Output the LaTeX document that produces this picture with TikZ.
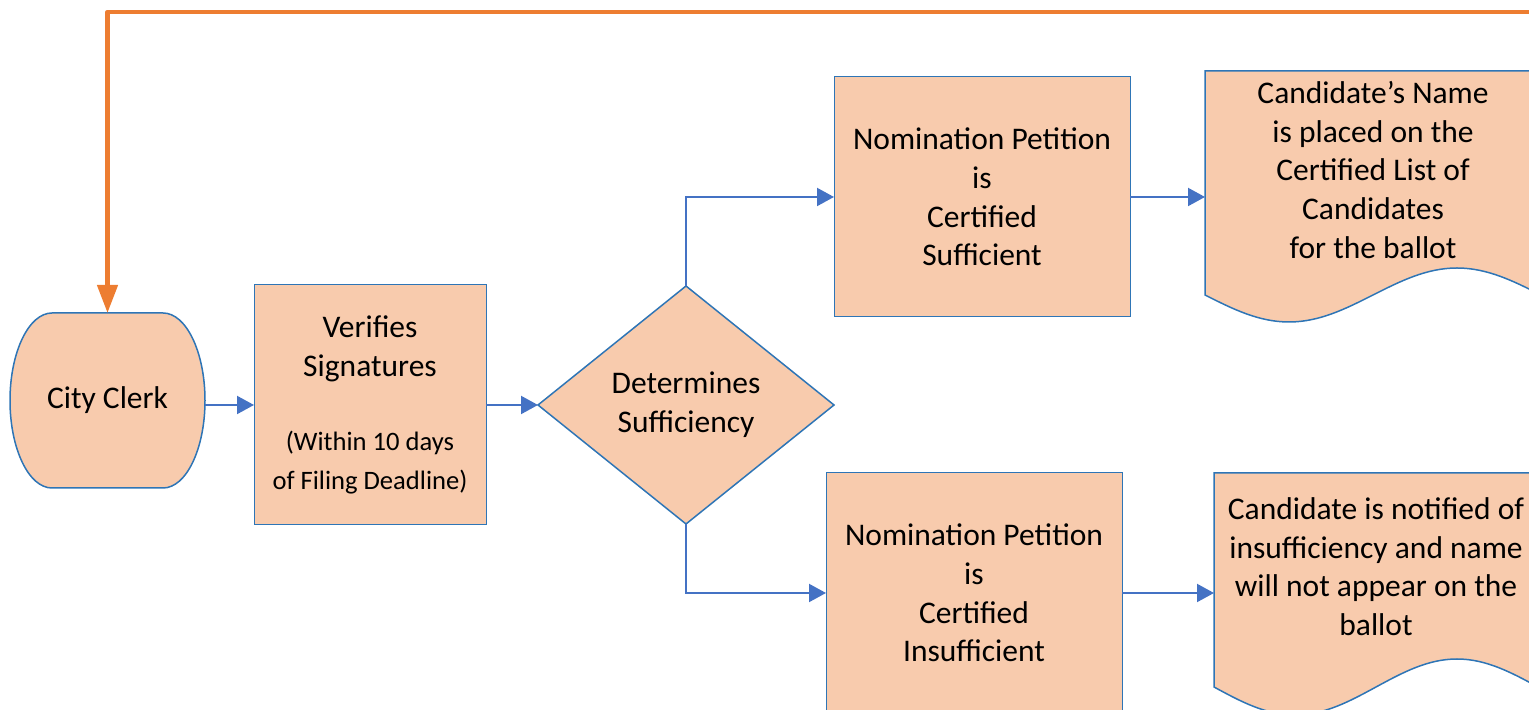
\documentclass[tikz,border=0pt]{standalone}
\usepackage{fontspec}
\setmainfont{Carlito}
\usetikzlibrary{shapes.geometric,arrows.meta,calc,backgrounds}
\definecolor{remplissage}{HTML}{F8CBAD}
\definecolor{bord}{HTML}{2E75B6}
\definecolor{lien}{HTML}{4472C4}
\definecolor{retourorange}{HTML}{ED7D31}
\newcommand\petit{\fontsize{13.3}{18.5}\selectfont}
\begin{document}
\begin{tikzpicture}[x=0.5pt, y=0.5pt]
	\tikzset{texte/.style={font=\fontsize{15.75}{19.3}\selectfont, align=center, inner sep=0pt, outer sep=0pt},
		boite/.style={texte, rectangle, draw=bord, line width=0.5pt, fill=remplissage, minimum width=148pt, minimum height=120pt},
		losange/.style={texte, diamond, aspect=1.24, draw=bord, line width=0.75pt, fill=remplissage, minimum width=148pt, minimum height=119pt},
		contour/.style={draw=bord, line width=0.75pt, fill=remplissage},
		fleche/.style={draw=lien, line width=1pt, -{Triangle[length=8.5pt, width=9pt]}},
		retour/.style={draw=retourorange, line width=2.25pt, line join=round, -{Triangle[length=14pt, width=10pt]}}};

	\useasboundingbox (0,0) rectangle (1529,710);

	\node[texte, minimum width=97.5pt, minimum height=87.5pt] (clerk) at (107.5, 309.5) {City Clerk};
	\node[boite, minimum width=116pt] (verif) at (370, 305) {Verifies\\Signatures\\[18pt]{\petit (Within 10 days}\\{\petit of Filing Deadline)}};
	\node[losange] (decision) at (686, 305) {Determines\\Sufficiency};
	\node[boite] (suff)   at (982, 513) {Nomination Petition\\is\\Certified\\Sufficient};
	\node[boite] (insuff) at (974, 117) {Nomination Petition\\is\\Certified\\Insufficient};
	\node[texte, minimum width=168pt, minimum height=99pt]   (liste) at (1373, 540) {Candidate’s Name\\is placed on the\\Certified List of\\Candidates\\for the ballot};
	\node[texte, minimum width=162pt, minimum height=93.5pt] (avis)  at (1376, 143.5) {Candidate is notified of\\insufficiency and name\\will not appear on the\\ballot};

	% formes dessinees derriere le texte
	\begin{scope}[on background layer]
		\draw[contour] ($(clerk.north west)+(42,0)$) -- ($(clerk.north east)+(-42,0)$)
			arc[start angle=90, end angle=-90, x radius=42, y radius=87.5]
			-- ($(clerk.south west)+(42,0)$)
			arc[start angle=270, end angle=90, x radius=42, y radius=87.5] -- cycle;
		\draw[contour] (liste.north west) -- (liste.north east) -- ($(liste.south east)+(0,-26)$)
			sin ++(-84,27) cos ++(-84,-27) sin ++(-84,-27) cos ++(-84,27) -- cycle;
		\draw[contour] (avis.north west) -- (avis.north east) -- ($(avis.south east)+(0,-27)$)
			sin ++(-81,28) cos ++(-81,-28) sin ++(-81,-28) cos ++(-81,28) -- cycle;
	\end{scope}

	\draw[fleche] (verif.west -| clerk.east) -- (verif.west);
	\draw[fleche] (verif) -- (decision);
	\draw[fleche] (decision.north) |- (suff.west);
	\draw[fleche] (decision.south) |- (insuff.west);
	\draw[fleche] (suff.east) -- (suff.east -| liste.west);
	\draw[fleche] (insuff.east) -- (insuff.east -| avis.west);

	\coordinate (depart) at (1540, 698);
	\draw[retour] (depart) -| (clerk.north);

\end{tikzpicture}
\end{document}
